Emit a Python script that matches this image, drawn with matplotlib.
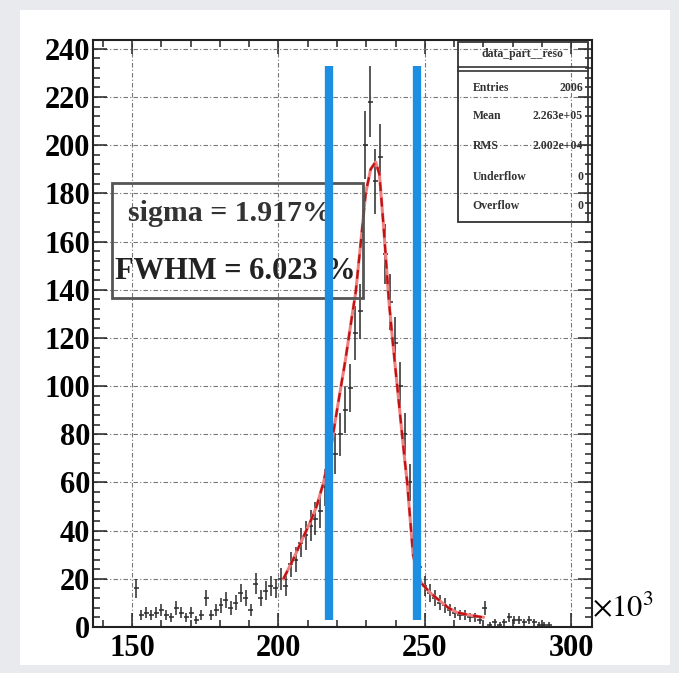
import numpy as np
import matplotlib.pyplot as plt
from matplotlib.patches import Rectangle
from matplotlib.ticker import MultipleLocator

# histogram: 100 bins of width 1.7 (x10^3) starting at 137.0
bin_lo = 137.0
bin_w = 1.7
counts = [0, 0, 0, 0, 0, 0, 0, 0, 16, 5, 6, 5, 6, 7, 5, 4, 8, 6, 4, 6,
          3, 5, 12, 5, 7, 9, 11, 8, 10, 14, 12, 7, 18, 12, 15, 17, 16, 20, 17, 26,
          28, 35, 38, 42, 45, 48, 58, 62, 72, 80, 90, 99, 122, 131, 200, 218, 185, 195, 155, 135,
          118, 100, 80, 60, 35, 25, 17, 14, 12, 10, 9, 7, 6, 5, 5, 4, 4, 3, 8, 1,
          2, 1, 2, 4, 3, 3, 2, 3, 2, 1, 1, 1, 0, 0, 0, 0, 0, 0, 0, 0]

# fitted curve
fit_x = [201.7, 205, 208, 211, 213, 215.4, 218, 220, 222.9, 224.5, 226.4, 228, 229.8, 231.5,
         233.2, 234.5, 236, 237.7, 239, 241, 243, 244, 245, 246, 247.5,
         249, 252, 255, 258, 261, 265, 270]
fit_y = [20, 28, 36, 44, 50, 60, 75, 90, 111, 124, 139, 158, 180, 190,
         193, 188, 165, 136, 119, 95, 71, 60, 45, 30, 22,
         18, 14, 11, 8, 6, 5, 4]

cut_lo, cut_hi = 217.1, 247.3
sigma_txt = "sigma = 1.917%"
fwhm_txt = "FWHM = 6.023 %"
stats_title = "data_part__reso"
stats_rows = [("Entries", "2006"), ("Mean", "2.263e+05"), ("RMS", "2.002e+04"),
              ("Underflow", "0"), ("Overflow", "0")]

serif = ['Liberation Serif', 'DejaVu Serif']
plt.rcParams['mathtext.fontset'] = 'stix'

fig = plt.figure(figsize=(6.79, 6.73), dpi=100)
fig.patch.set_facecolor('#e9eaee')
fig.patches.append(Rectangle((0.0295, 0.012), 0.957, 0.973, transform=fig.transFigure,
                             facecolor='white', edgecolor='none', zorder=-1))
ax = fig.add_axes([0.137, 0.0684, 0.735, 0.872])
ax.set_facecolor('none')

counts = np.array(counts, dtype=float)
centers = bin_lo + bin_w * (np.arange(len(counts)) + 0.5)
m = counts > 0
ax.errorbar(centers[m], counts[m], yerr=np.sqrt(counts[m]), xerr=bin_w / 2,
            fmt='none', ecolor='#2a2a2a', elinewidth=1.1, zorder=3)

ax.plot(fit_x, fit_y, color='#f08080', lw=2.2, zorder=4)
ax.plot(fit_x, fit_y, color='#c01010', lw=1.6, ls=(0, (4, 3)), zorder=5)

ax.vlines([cut_lo, cut_hi], 3, 233, color='#1c8fe3', lw=6, zorder=8)

ax.set_xlim(136.6, 307.2)
ax.set_ylim(0, 243.6)
ax.xaxis.set_major_locator(MultipleLocator(50))
ax.xaxis.set_minor_locator(MultipleLocator(10))
ax.yaxis.set_major_locator(MultipleLocator(20))
ax.yaxis.set_minor_locator(MultipleLocator(4))
ax.tick_params(which='both', direction='in', top=True, right=True, width=1.1, color='#222')
ax.tick_params(which='major', length=10)
ax.tick_params(which='minor', length=5)
ax.tick_params(axis='x', which='major', pad=5)
ax.tick_params(axis='y', which='major', pad=2)
for lab in ax.get_xticklabels() + ax.get_yticklabels():
    lab.set_family(serif)
    lab.set_fontweight('bold')
    lab.set_fontsize(22)
for s in ax.spines.values():
    s.set_linewidth(1.5)
    s.set_color('#222')
ax.grid(True, which='major', color='#777', lw=0.8, ls=(0, (4, 2, 1, 2)), zorder=1)

ax.text(1.0, 0.008, r'$\times 10^{3}$', transform=ax.transAxes, fontsize=22,
        va='bottom', ha='left')

# fit result box
ax.add_patch(Rectangle((143.2, 136.5), 85.6, 47.7, facecolor='none', edgecolor='#555',
                       lw=2, zorder=6))
ax.text(148.5, 171.5, sigma_txt, family=serif, fontweight='bold', fontsize=21.5,
        va='center', ha='left', color='#333', zorder=7)
ax.text(144.0, 147.5, fwhm_txt, family=serif, fontweight='bold', fontsize=22,
        va='center', ha='left', color='#222', zorder=7)

# stats box
bx0, bx1, by0, by1 = 0.731, 0.992, 0.69, 0.997
ax.add_patch(Rectangle((bx0, by0), bx1 - bx0, by1 - by0, transform=ax.transAxes,
                       facecolor='none', edgecolor='#333', lw=1.3, zorder=6))
ax.plot([bx0, bx1], [0.955, 0.955], transform=ax.transAxes, color='#333', lw=1.2, zorder=6)
ax.plot([bx0, bx1], [0.948, 0.948], transform=ax.transAxes, color='#333', lw=1.2, zorder=6)
ax.text((bx0 + bx1) / 2, 0.977, stats_title, transform=ax.transAxes, family=serif,
        fontsize=8.5, fontweight='bold', ha='center', va='center', color='#333')
row_y = [0.918, 0.870, 0.820, 0.766, 0.718]
for (k, v), yy in zip(stats_rows, row_y):
    ax.text(bx0 + 0.03, yy, k, transform=ax.transAxes, family=serif, fontsize=8.5,
            fontweight='bold', ha='left', va='center', color='#333')
    ax.text(bx1 - 0.01, yy, v, transform=ax.transAxes, family=serif, fontsize=8.5,
            fontweight='bold', ha='right', va='center', color='#333')

fig.savefig('out.png', dpi=100)
